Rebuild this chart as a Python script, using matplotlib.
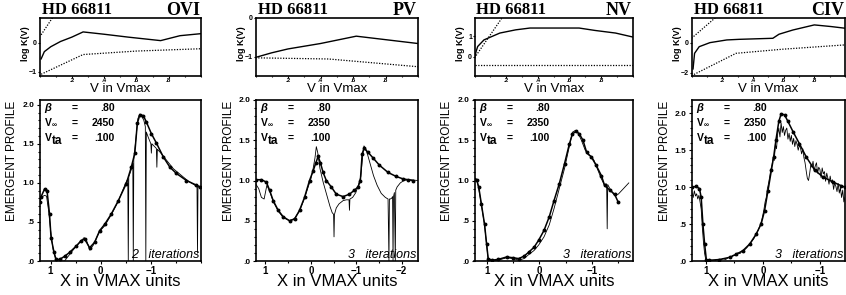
import matplotlib
matplotlib.use("Agg")
import matplotlib.pyplot as plt
from matplotlib.ticker import FixedLocator, MultipleLocator

plt.rcParams['font.family'] = ['Liberation Sans', 'DejaVu Sans']

ions = ["OVI", "PV", "NV", "CIV"]
star = "HD 66811"
beta = ".80"
vinf = ["2450", "2350", "2350", "2350"]
vta = ".100"
iters = ["2", "3", "3", "3"]

# ---- top row: log K(V) against V/Vmax ----
v1s = [0.01, 0.03, 0.07, 0.13, 0.20, 0.27, 0.40, 0.55, 0.75, 0.87, 1.0]
k1s = [-0.55, -0.30, -0.13, 0.05, 0.20, 0.38, 0.30, 0.20, 0.08, 0.25, 0.32]
v1d = [0.01, 0.27, 0.60, 1.0]
k1d = [-1.08, -0.40, -0.28, -0.20]
v1e = [0.01, 0.09]
k1e = [0.28, 0.95]

v2s = [0.0, 0.10, 0.20, 0.40, 0.62, 0.80, 1.0]
k2s = [-1.02, -0.90, -0.80, -0.66, -0.47, -0.56, -0.66]
v2d = [0.0, 0.45, 1.0]
k2d = [-1.03, -1.06, -1.26]

v3s = [0.0, 0.01, 0.02, 0.06, 0.16, 0.26, 0.35, 0.55, 0.66, 0.76, 0.89, 1.0]
k3s = [-0.10, 0.25, 0.50, 0.83, 1.17, 1.33, 1.42, 1.42, 1.42, 1.30, 1.17, 0.97]
v3d = [0.0, 1.0]
k3d = [-0.43, -0.43]
v3e = [0.01, 0.18]
k3e = [0.05, 2.0]

v4s = [0.01, 0.02, 0.05, 0.12, 0.23, 0.31, 0.53, 0.57, 0.66, 0.80, 0.91, 1.0]
k4s = [-1.75, -0.71, -0.27, 0.0, 0.18, 0.22, 0.29, 0.56, 0.84, 1.18, 1.07, 0.96]
v4d = [0.0, 0.29, 0.59, 1.0]
k4d = [-2.2, -0.71, -0.44, -0.15]
v4e = [0.0, 0.16]
k4e = [0.29, 1.7]

# ---- bottom row: emergent profiles (model with dots, observed thin line) ----
x1m = [1.22, 1.19, 1.12, 1.07, 1.02, 0.99, 0.93, 0.89, 0.82, 0.72, 0.62, 0.49, 0.39, 0.32, 0.22, 0.12, 0.02,
       -0.08, -0.21, -0.35, -0.51, -0.61, -0.68, -0.73, -0.78, -0.85, -0.91, -1.01, -1.11, -1.25, -1.38, -1.51,
       -1.71, -1.91, -1.98]
y1m = [0.75, 0.82, 0.92, 0.90, 0.60, 0.30, 0.11, 0.02, 0.02, 0.06, 0.11, 0.19, 0.26, 0.28, 0.17, 0.24, 0.39,
       0.47, 0.60, 0.77, 0.99, 1.20, 1.38, 1.76, 1.87, 1.86, 1.78, 1.63, 1.51, 1.33, 1.20, 1.12,
       1.03, 0.97, 0.95]
x1o = [1.22, 1.17, 1.12, 1.08, 1.04, 1.0, 0.95, 0.90, 0.85, 0.78, 0.72, 0.66, 0.60, 0.50, 0.40, 0.33, 0.28,
       0.22, 0.15, 0.08, 0.02, -0.08, -0.20, -0.34, -0.50, -0.54, -0.55, -0.56, -0.60, -0.64, -0.65, -0.66,
       -0.70, -0.74, -0.78, -0.82, -0.86, -0.89, -0.90, -0.91, -0.95, -1.00, -1.01, -1.02, -1.08, -1.11,
       -1.12, -1.13, -1.20, -1.30, -1.45, -1.60, -1.75, -1.88, -1.92, -1.93, -1.94, -1.98]
y1o = [0.78, 0.82, 0.84, 0.83, 0.65, 0.40, 0.15, 0.03, 0.0, 0.0, 0.0, 0.05, 0.10, 0.18, 0.25, 0.30, 0.26,
       0.14, 0.20, 0.30, 0.38, 0.45, 0.58, 0.75, 1.00, 1.05, 0.0, 1.08, 1.15, 1.25, 0.0, 1.30,
       1.55, 1.82, 1.88, 1.85, 1.80, 1.72, 0.0, 1.65, 1.58, 1.50, 1.38, 1.50, 1.46, 1.44,
       1.20, 1.43, 1.38, 1.30, 1.18, 1.10, 1.02, 0.97, 0.96, 0.10, 0.95, 0.94]

x2m = [1.20, 1.09, 0.98, 0.91, 0.83, 0.72, 0.61, 0.47, 0.36, 0.25, 0.14, 0.03, -0.05, -0.11, -0.16, -0.21,
       -0.27, -0.34, -0.45, -0.56, -0.71, -0.85, -0.96, -1.04, -1.09, -1.13, -1.17, -1.26, -1.37, -1.51,
       -1.70, -1.88, -2.03, -2.14, -2.25]
y2m = [1.01, 1.01, 0.98, 0.88, 0.75, 0.63, 0.55, 0.50, 0.52, 0.63, 0.79, 1.00, 1.12, 1.22, 1.30, 1.22,
       1.10, 1.00, 0.92, 0.83, 0.80, 0.83, 0.88, 0.92, 1.00, 1.33, 1.40, 1.35, 1.28, 1.19,
       1.10, 1.05, 1.02, 1.01, 1.00]
x2o = [1.22, 1.15, 1.09, 1.03, 0.97, 0.91, 0.83, 0.72, 0.61, 0.47, 0.36, 0.25, 0.14, 0.06, 0.0, -0.05,
       -0.09, -0.12, -0.15, -0.20, -0.27, -0.35, -0.42, -0.47, -0.50, -0.51, -0.52, -0.56, -0.62, -0.71,
       -0.78, -0.84, -0.85, -0.86, -0.92, -0.99, -1.05, -1.10, -1.14, -1.17, -1.22, -1.30, -1.38, -1.46,
       -1.55, -1.64, -1.70, -1.72, -1.73, -1.75, -1.78, -1.80, -1.81, -1.82, -1.84, -1.86, -1.87, -1.90,
       -1.97, -2.05, -2.15, -2.36]
y2o = [0.96, 0.90, 0.79, 0.77, 0.94, 0.87, 0.74, 0.62, 0.54, 0.50, 0.53, 0.62, 0.78, 0.92, 1.02, 1.15,
       1.28, 1.42, 1.35, 1.15, 0.98, 0.82, 0.68, 0.60, 0.58, 0.30, 0.58, 0.66, 0.71, 0.75,
       0.76, 0.76, 0.63, 0.77, 0.79, 0.85, 0.95, 1.05, 1.30, 1.43, 1.38, 1.22, 1.06, 0.94,
       0.84, 0.79, 0.77, 0.0, 0.77, 0.77, 0.78, 0.80, 0.0, 0.80, 0.85, 0.0, 0.88, 0.92,
       0.97, 1.00, 1.01, 1.00]

x3m = [1.23, 1.19, 1.15, 1.10, 1.04, 1.0, 0.97, 0.90, 0.78, 0.62, 0.49, 0.39, 0.29, 0.20, 0.10, 0.01,
       -0.09, -0.19, -0.28, -0.38, -0.48, -0.57, -0.63, -0.70, -0.76, -0.83, -0.90, -0.99, -1.08, -1.18,
       -1.24, -1.34, -1.43, -1.50]
y3m = [1.02, 1.01, 0.92, 0.71, 0.46, 0.21, 0.03, 0.01, 0.02, 0.05, 0.04, 0.03, 0.06, 0.11, 0.17, 0.26,
       0.38, 0.55, 0.75, 0.96, 1.21, 1.45, 1.58, 1.61, 1.58, 1.50, 1.35, 1.29, 1.19, 1.06,
       0.94, 0.88, 0.83, 0.73]
x3o = [1.23, 1.19, 1.15, 1.10, 1.04, 1.0, 0.97, 0.90, 0.78, 0.62, 0.49, 0.39, 0.29, 0.20, 0.10, 0.01,
       -0.09, -0.19, -0.28, -0.38, -0.48, -0.57, -0.63, -0.68, -0.73, -0.80, -0.87, -0.93, -0.99, -1.04,
       -1.10, -1.18, -1.24, -1.27, -1.28, -1.29, -1.30, -1.34, -1.42, -1.50, -1.70]
y3o = [1.00, 1.02, 0.90, 0.70, 0.45, 0.20, 0.02, 0.0, 0.01, 0.04, 0.03, 0.01, 0.03, 0.08, 0.13, 0.20,
       0.30, 0.45, 0.65, 0.90, 1.15, 1.42, 1.60, 1.62, 1.60, 1.50, 1.38, 1.32, 1.30, 1.25,
       1.15, 1.02, 0.94, 0.96, 0.92, 0.40, 0.95, 0.90, 0.82, 0.83, 0.97]

x4m = [1.24, 1.17, 1.11, 1.08, 1.05, 1.02, 0.99, 0.94, 0.76, 0.58, 0.47, 0.35, 0.23, 0.12, 0.03, -0.03,
       -0.09, -0.15, -0.19, -0.23, -0.28, -0.32, -0.38, -0.44, -0.53, -0.64, -0.76, -0.91, -1.05, -1.23,
       -1.37, -1.44]
y4m = [1.00, 1.01, 0.98, 0.86, 0.50, 0.23, 0.02, 0.01, 0.02, 0.05, 0.09, 0.14, 0.23, 0.36, 0.50, 0.68,
       0.95, 1.23, 1.41, 1.64, 1.89, 1.99, 1.98, 1.89, 1.75, 1.59, 1.41, 1.23, 1.14, 1.07,
       1.02, 1.00]
x4o = [1.24, 1.22, 1.20, 1.18, 1.16, 1.14, 1.12, 1.10, 1.08, 1.06, 1.04, 1.02, 1.00, 0.95, 0.90, 0.85,
       0.80, 0.75, 0.70, 0.65, 0.60, 0.56, 0.52, 0.48, 0.44, 0.40, 0.36, 0.32, 0.28, 0.24, 0.20, 0.16,
       0.12, 0.08, 0.05, 0.02, 0.0,
       -0.02, -0.04, -0.06, -0.08, -0.10, -0.12, -0.14, -0.16, -0.18, -0.20,
       -0.22, -0.24, -0.26, -0.28, -0.30, -0.32, -0.34, -0.36, -0.38, -0.40, -0.42, -0.44, -0.46, -0.48,
       -0.50, -0.52, -0.54, -0.56, -0.58,
       -0.60, -0.62, -0.64, -0.66, -0.68, -0.70, -0.72, -0.74, -0.76, -0.78,
       -0.80, -0.82, -0.84, -0.86, -0.88, -0.90, -0.92, -0.94, -0.96, -0.98,
       -1.00, -1.02, -1.04, -1.06, -1.08, -1.10, -1.12, -1.14, -1.16, -1.18,
       -1.20, -1.22, -1.24, -1.26, -1.28, -1.30, -1.32, -1.34, -1.36, -1.38,
       -1.40, -1.42, -1.44]
y4o = [0.92, 0.86, 0.95, 0.88, 0.91, 0.84, 0.89, 0.80, 0.70, 0.45, 0.25, 0.10, 0.02, 0.0, 0.01, 0.0,
       0.02, 0.01, 0.03, 0.02, 0.05, 0.04, 0.08, 0.07, 0.11, 0.10, 0.14, 0.15, 0.18, 0.22, 0.26, 0.30,
       0.36, 0.42, 0.48, 0.55, 0.62,
       0.70, 0.80, 0.86, 0.98, 1.05, 1.14, 1.24, 1.30, 1.40, 1.36,
       1.58, 1.52, 1.72, 1.80, 1.68, 1.87, 1.74, 1.82, 1.70, 1.77, 1.80, 1.65, 1.73, 1.62,
       1.70, 1.58, 1.66, 1.55, 1.63,
       1.58, 1.50, 1.57, 1.53, 1.45, 1.52, 1.40, 1.33, 1.22, 1.12,
       1.09, 1.18, 1.30, 1.27, 1.35, 1.22, 1.29, 1.33, 1.19, 1.27,
       1.24, 1.13, 1.26, 1.18, 1.21, 1.08, 1.19, 1.12, 1.04, 1.15,
       1.06, 1.10, 0.97, 1.06, 1.01, 0.94, 1.05, 0.92, 0.99, 0.86,
       0.96, 0.80, 0.86]

# layout in pixels of the 846x295 image
W, H = 846, 295
lefts = [39.5, 255.5, 474.5, 691.5]
rights = [201, 418, 633, 845]
top_ylims = [(-1.14, 0.86), (-1.5, 0.0), (-0.97, 1.92), (-2.22, 1.64)]
top_yticks = [[-1, 0], [-1, 0], [0, 1], [-2, 0]]
bot_xlims = [(1.22, -2.0), (1.22, -2.36), (1.23, -1.78), (1.25, -1.44)]
bot_ylims = [(0, 2.06), (0, 2.0), (0, 2.0), (0, 2.18)]
bot_xticks = [[1, 0, -1], [1, 0, -1, -2], [1, 0, -1], [1, 0, -1]]

top_solid = [(v1s, k1s), (v2s, k2s), (v3s, k3s), (v4s, k4s)]
top_dot = [(v1d, k1d), (v2d, k2d), (v3d, k3d), (v4d, k4d)]
top_steep = [(v1e, k1e), None, (v3e, k3e), (v4e, k4e)]
models = [(x1m, y1m), (x2m, y2m), (x3m, y3m), (x4m, y4m)]
obs = [(x1o, y1o), (x2o, y2o), (x3o, y3o), (x4o, y4o)]

fig = plt.figure(figsize=(W / 100, H / 100), dpi=100)


def rect(x0, x1, y0, y1):
    return [x0 / W, 1 - y1 / H, (x1 - x0) / W, (y1 - y0) / H]


def ft(x, y, s, **kw):
    fig.text(x / W, 1 - y / H, s, **kw)


def frame(ax, pad=1, major=2.5, minor=1.5):
    for sp in ax.spines.values():
        sp.set_linewidth(1.2)
    ax.tick_params(which='both', direction='out', width=0.8, pad=pad)
    ax.tick_params(which='major', length=major)
    ax.tick_params(which='minor', length=minor)


for i in range(4):
    L, R = lefts[i], rights[i]

    # top panel
    ax = fig.add_axes(rect(L, R, 18, 76))
    frame(ax, pad=0.3, major=1.5, minor=1.0)
    ax.plot(*top_solid[i], color='black', lw=1.0)
    ax.plot(*top_dot[i], color='black', lw=0.9, ls=(0, (1, 1.2)))
    if top_steep[i] is not None:
        ax.plot(*top_steep[i], color='black', lw=0.9, ls=(0, (1, 1.2)))
    ax.set_xlim(0, 1)
    ax.set_ylim(*top_ylims[i])
    ax.xaxis.set_major_locator(FixedLocator([0.2, 0.4, 0.6, 0.8]))
    ax.set_xticklabels([".2", ".4", ".6", ".8"], fontsize=4.5, fontweight='bold')
    ax.xaxis.set_minor_locator(MultipleLocator(0.1))
    ax.yaxis.set_major_locator(FixedLocator(top_yticks[i]))
    ax.set_yticklabels([str(t).replace('-', '\u2212') for t in top_yticks[i]], fontsize=5, fontweight='bold')
    ft(L - 14, 44, "log K(V)", rotation=90, fontsize=6.5, fontweight='bold', ha='center', va='center')
    ft((L + R) / 2, 89.5, "V in Vmax", fontsize=9.5, ha='center', va='center')
    ft(L + 2, 10.5, star, family=['Liberation Serif'], fontsize=12, fontweight='bold', va='center')
    ft(R - 1, 10.5, ions[i], family=['Liberation Serif'], fontsize=13, fontweight='bold',
       va='center', ha='right')

    # bottom panel
    ax = fig.add_axes(rect(L, R, 100, 261))
    frame(ax)
    ax.plot(*obs[i], color='black', lw=0.6)
    ax.plot(*models[i], color='black', lw=1.1, marker='o', ms=1.8)
    ax.set_xlim(*bot_xlims[i])
    ax.set_ylim(*bot_ylims[i])
    ax.xaxis.set_major_locator(FixedLocator(bot_xticks[i]))
    ax.set_xticklabels([str(t).replace('-', '\u2212') for t in bot_xticks[i]], fontsize=7, fontweight='bold')
    ax.xaxis.set_minor_locator(MultipleLocator(0.5))
    ax.yaxis.set_major_locator(FixedLocator([0, 0.5, 1.0, 1.5, 2.0]))
    ax.set_yticklabels([".0", ".5", "1.0", "1.5", "2.0"], fontsize=6, fontweight='bold')
    ax.yaxis.set_minor_locator(MultipleLocator(0.1))
    ft(L - 27, 161, "EMERGENT PROFILE", rotation=90, fontsize=8.5, ha='center', va='center')
    ft((L + R) / 2, 282, "X in VMAX units", fontsize=12, ha='center', va='center')

    # parameters
    ft(L + 5, 108, "\u03b2", fontsize=8, fontweight='bold', style='italic', va='center')
    ft(L + 5, 123, "V", fontsize=7.5, fontweight='bold', va='center')
    ft(L + 12.5, 125.5, "\u221e", fontsize=5, fontweight='bold', va='center')
    ft(L + 5, 138, "V", fontsize=7.5, fontweight='bold', va='center')
    ft(L + 12, 141.5, "ta", fontsize=8.5, fontweight='bold', va='center')
    for y, val in zip([108, 123, 138], [beta, vinf[i], vta]):
        ft(L + 32, y, "=", fontsize=7.5, fontweight='bold', va='center')
        ft(L + 75, y, val, fontsize=7.5, fontweight='bold', va='center', ha='right')
    ft(R - 2, 255, iters[i] + "   iterations", fontsize=9, style='italic', va='center', ha='right')

fig.savefig("out.png", dpi=100)
